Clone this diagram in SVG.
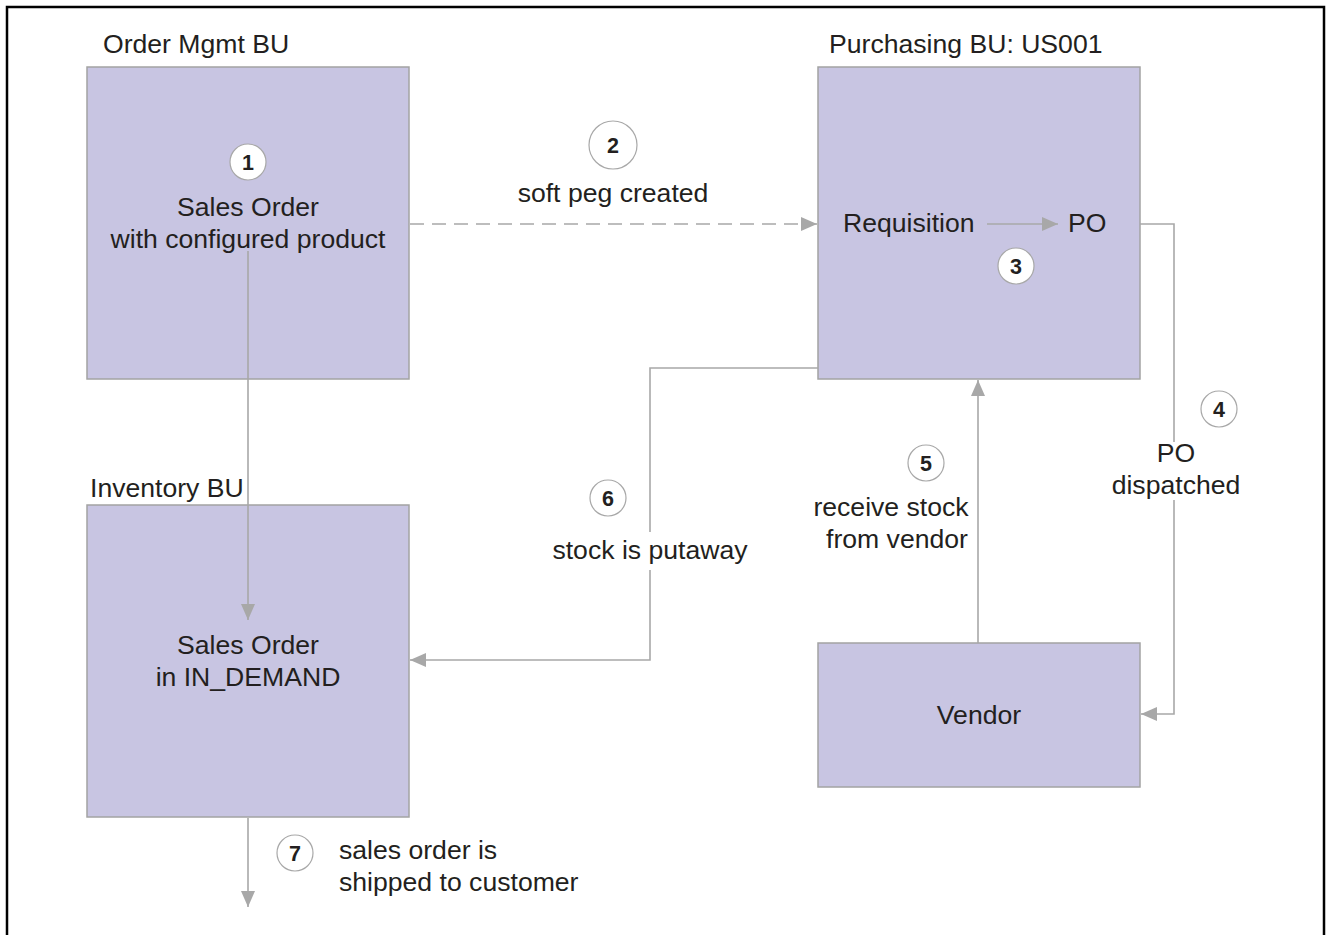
<svg xmlns="http://www.w3.org/2000/svg" width="1329" height="935" viewBox="0 0 1329 935">
<defs>
<marker id="ah" viewBox="0 0 16 14" refX="16" refY="7" markerWidth="16" markerHeight="14" markerUnits="userSpaceOnUse" orient="auto">
<path d="M0,0 L16,7 L0,14 Z" fill="#a8a8a8"/>
</marker>
</defs>
<style>
.box{fill:#c8c5e2;stroke:#a3a3a3;stroke-width:1.5}
.t{font-family:"Liberation Sans",Arial,sans-serif;font-size:26.6px;fill:#231f20}
.c{text-anchor:middle}
.ln{fill:none;stroke:#a8a8a8;stroke-width:1.6}
.num circle{fill:#fff;stroke:#a8a8a8;stroke-width:1.2}
.num text{font-family:"Liberation Sans",Arial,sans-serif;font-size:21.5px;font-weight:bold;fill:#231f20;text-anchor:middle}
</style>
<rect width="1329" height="935" fill="#fff"/>
<rect x="7" y="7" width="1317" height="940" fill="none" stroke="#000" stroke-width="2.5"/>

<g id="order-mgmt">
<text class="t" x="103" y="53">Order Mgmt BU</text>
<rect class="box" x="87" y="67" width="322" height="312"/>
<text class="t c" x="248" y="216">Sales Order</text>
<text class="t c" x="248" y="248">with configured product</text>
</g>
<g id="purchasing">
<text class="t" x="829" y="53">Purchasing BU: US001</text>
<rect class="box" x="818" y="67" width="322" height="312"/>
<text class="t" x="843" y="232">Requisition</text>
<text class="t" x="1068" y="232">PO</text>
</g>
<g id="inventory">
<text class="t" x="90" y="497">Inventory BU</text>
<rect class="box" x="87" y="505" width="322" height="312"/>
<text class="t c" x="248" y="654">Sales Order</text>
<text class="t c" x="248" y="686">in IN_DEMAND</text>
</g>
<g id="vendor">
<rect class="box" x="818" y="643" width="322" height="144"/>
<text class="t c" x="979" y="724">Vendor</text>
</g>

<g id="connectors">
<line class="ln" x1="410" y1="224" x2="817" y2="224" stroke-dasharray="14,8" marker-end="url(#ah)"/>
<line class="ln" x1="987" y1="224" x2="1058" y2="224" marker-end="url(#ah)"/>
<line class="ln" x1="248" y1="251" x2="248" y2="620" marker-end="url(#ah)"/>
<polyline class="ln" points="1140,224 1174,224 1174,442"/>
<polyline class="ln" points="1174,500 1174,714 1141,714" marker-end="url(#ah)"/>
<line class="ln" x1="978" y1="643" x2="978" y2="380" marker-end="url(#ah)"/>
<polyline class="ln" points="818,368 650,368 650,532"/>
<polyline class="ln" points="650,570 650,660 410,660" marker-end="url(#ah)"/>
<line class="ln" x1="248" y1="818" x2="248" y2="907" marker-end="url(#ah)"/>
</g>

<g id="labels">
<text class="t c" x="613" y="202">soft peg created</text>
<text class="t c" x="1176" y="462">PO</text>
<text class="t c" x="1176" y="494">dispatched</text>
<text class="t c" x="891" y="516">receive stock</text>
<text class="t c" x="897" y="548">from vendor</text>
<text class="t c" x="650" y="559">stock is putaway</text>
<text class="t" x="339" y="859">sales order is</text>
<text class="t" x="339" y="891">shipped to customer</text>
</g>

<g id="numbers" class="num">
<g><circle cx="248" cy="162" r="18"/><text x="248" y="170">1</text></g>
<g><circle cx="613" cy="145" r="24"/><text x="613" y="153">2</text></g>
<g><circle cx="1016" cy="266" r="18"/><text x="1016" y="274">3</text></g>
<g><circle cx="1219" cy="409" r="18"/><text x="1219" y="417">4</text></g>
<g><circle cx="926" cy="463" r="18"/><text x="926" y="471">5</text></g>
<g><circle cx="608" cy="498" r="18"/><text x="608" y="506">6</text></g>
<g><circle cx="295" cy="853" r="18"/><text x="295" y="861">7</text></g>
</g>
</svg>
